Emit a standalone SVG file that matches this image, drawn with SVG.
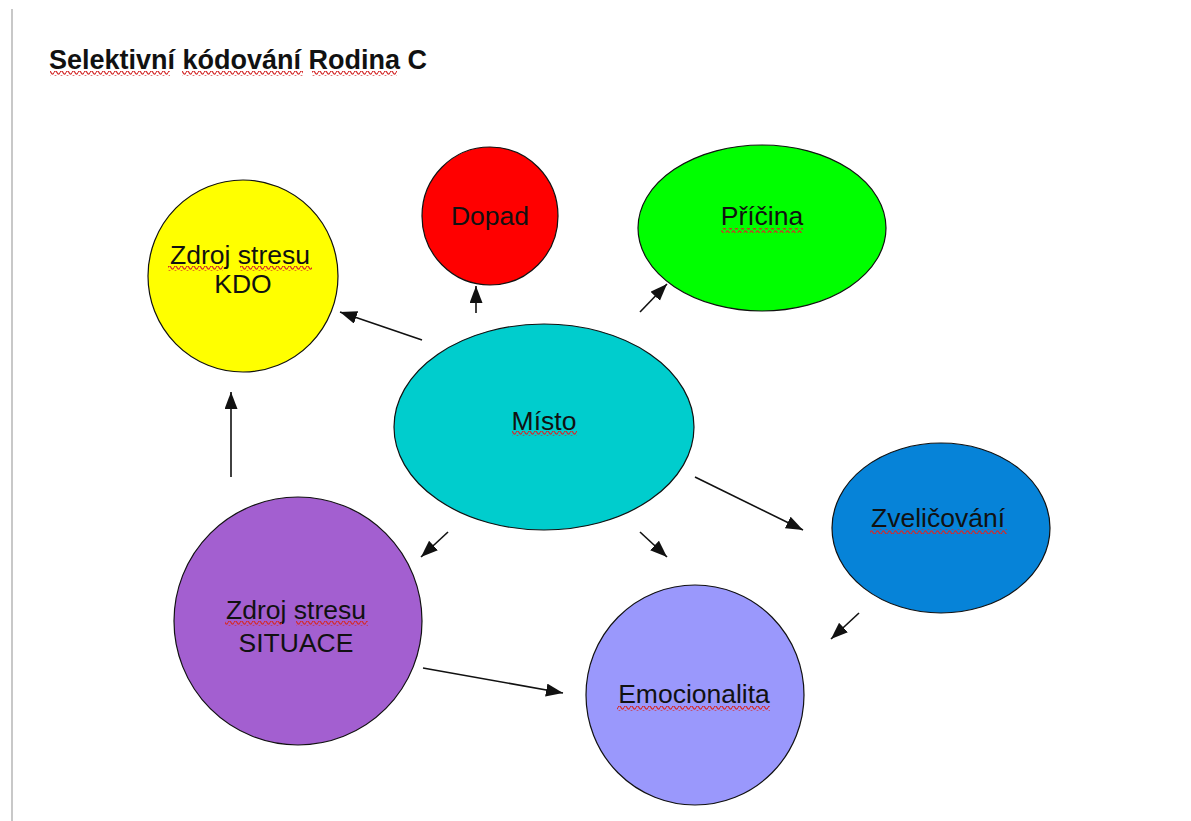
<svg xmlns="http://www.w3.org/2000/svg" width="1191" height="821" viewBox="0 0 1191 821">
  <style>
    .node { stroke: #111; stroke-width: 1.2; }
    .label { font-family: "Liberation Sans", Arial, sans-serif; font-size: 26.5px; fill: #111; text-anchor: middle; }
    .title { font-family: "Liberation Sans", Arial, sans-serif; font-size: 27px; font-weight: bold; fill: #111; }
    .edge { stroke: #111; stroke-width: 1.6; fill: none; marker-end: url(#head); }
    .spell { fill: url(#wave); }
  </style>
  <defs>
    <marker id="head" markerUnits="userSpaceOnUse" markerWidth="18" markerHeight="14" refX="17" refY="6.5" orient="auto">
      <path d="M0,0 L17,6.5 L0,13 Z" fill="#111"/>
    </marker>
    <!-- red squiggle used to mark spell-checked words -->
    <pattern id="wave" patternUnits="userSpaceOnUse" width="6" height="5">
      <path d="M0 2.5 Q1.5 -0.6 3 2.5 T6 2.5" fill="none" stroke="#d42a2a" stroke-width="1.3"/>
    </pattern>
  </defs>

  <rect width="1191" height="821" fill="#fff"/>
  <!-- page margin line -->
  <line x1="12" y1="9" x2="12" y2="821" stroke="#c8c8c8" stroke-width="2"/>

  <g id="title">
    <text class="title" x="49" y="69">Selektivní kódování Rodina C</text>
    <rect class="spell" x="50" y="71" width="120" height="5"/>
    <rect class="spell" x="182" y="71" width="121" height="5"/>
    <rect class="spell" x="312" y="71" width="85" height="5"/>
  </g>

  <g id="connectors">
    <line class="edge" x1="422" y1="340" x2="340" y2="312"/>
    <line class="edge" x1="476" y1="313" x2="476" y2="286"/>
    <line class="edge" x1="640" y1="312" x2="667" y2="284"/>
    <line class="edge" x1="231" y1="477" x2="231" y2="392"/>
    <line class="edge" x1="448" y1="532" x2="421" y2="557"/>
    <line class="edge" x1="640" y1="532" x2="667" y2="557"/>
    <line class="edge" x1="695" y1="477" x2="803" y2="530"/>
    <line class="edge" x1="859" y1="613" x2="831" y2="639"/>
    <line class="edge" x1="423" y1="668" x2="563" y2="693"/>
  </g>

  <g id="zdroj-kdo">
    <ellipse class="node" cx="243" cy="276" rx="95" ry="96" fill="#ffff00"/>
    <text class="label" x="240" y="264">Zdroj stresu</text>
    <text class="label" x="243" y="293">KDO</text>
    <rect class="spell" x="168" y="266" width="55" height="5"/>
    <rect class="spell" x="240" y="266" width="72" height="5"/>
  </g>

  <g id="dopad">
    <ellipse class="node" cx="490" cy="216" rx="68" ry="69" fill="#ff0000"/>
    <text class="label" x="490" y="225">Dopad</text>
  </g>

  <g id="pricina">
    <ellipse class="node" cx="762" cy="228" rx="124" ry="83" fill="#00ff00"/>
    <text class="label" x="762" y="225">Příčina</text>
    <rect class="spell" x="721" y="228" width="82" height="5"/>
  </g>

  <g id="misto">
    <ellipse class="node" cx="544" cy="427" rx="150" ry="103" fill="#00cdcd"/>
    <text class="label" x="544" y="430">Místo</text>
    <rect class="spell" x="512" y="431" width="65" height="5"/>
  </g>

  <g id="zvelicovani">
    <ellipse class="node" cx="941" cy="528" rx="109" ry="85" fill="#0683d8"/>
    <text class="label" x="938" y="527">Zveličování</text>
    <rect class="spell" x="870" y="529" width="137" height="5"/>
  </g>

  <g id="zdroj-situace">
    <ellipse class="node" cx="298" cy="621" rx="124" ry="124" fill="#a35fd0"/>
    <text class="label" x="296" y="619">Zdroj stresu</text>
    <text class="label" x="296" y="652">SITUACE</text>
    <rect class="spell" x="225" y="621" width="57" height="5"/>
    <rect class="spell" x="296" y="621" width="72" height="5"/>
  </g>

  <g id="emocionalita">
    <ellipse class="node" cx="695" cy="695" rx="109" ry="110" fill="#9a98fc"/>
    <text class="label" x="694" y="703">Emocionalita</text>
    <rect class="spell" x="617" y="706" width="153" height="5"/>
  </g>
</svg>
